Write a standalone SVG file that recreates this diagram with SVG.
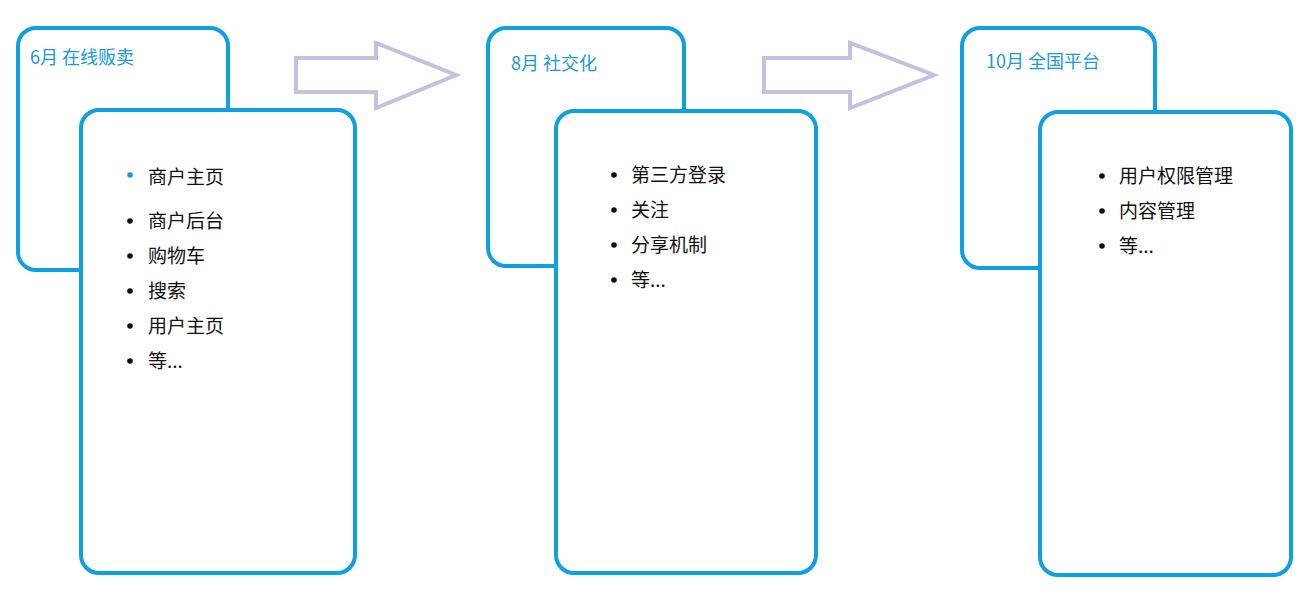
<svg xmlns="http://www.w3.org/2000/svg" width="1314" height="598" viewBox="0 0 1314 598">
<style>
.card{fill:#fff;stroke:#0ea0e0;stroke-width:4}
.arrow{fill:none;stroke:#c5bfe2;stroke-width:4;stroke-linejoin:miter}
.title{font-family:"Noto Sans CJK SC",sans-serif;font-size:18px;fill:#1a9ad6}
.item{font-family:"Noto Sans CJK SC",sans-serif;font-size:19px;fill:#111}
.dot{fill:#111}
</style>
<rect width="1314" height="598" fill="#fff"/>
<g id="connectors">
<polygon class="arrow" points="296,58 376,58 376,43 456,75 376,108 376,92 296,92"/>
<polygon class="arrow" points="764,58 850,58 850,43 934,75 850,108 850,92 764,92"/>
</g>
<g id="card1">
<rect class="card" x="18" y="28" width="210" height="242" rx="18"/>
<rect class="card" x="81" y="110" width="274" height="463" rx="18"/>
<text class="title" x="30" y="64">6月 在线贩卖</text>
<circle cx="130" cy="175" r="2.8" fill="#1a9ad6"/>
<circle class="dot" cx="130" cy="221" r="2.8"/><circle class="dot" cx="130" cy="256" r="2.8"/><circle class="dot" cx="130" cy="291" r="2.8"/><circle class="dot" cx="130" cy="326" r="2.8"/><circle class="dot" cx="130" cy="361" r="2.8"/>
<text class="item" x="148" y="184">商户主页</text>
<text class="item" x="148" y="228">商户后台</text>
<text class="item" x="148" y="263">购物车</text>
<text class="item" x="148" y="298">搜索</text>
<text class="item" x="148" y="333">用户主页</text>
<text class="item" x="148" y="368">等...</text>
</g>
<g id="card2">
<rect class="card" x="488" y="28" width="196" height="238" rx="18"/>
<rect class="card" x="556" y="111" width="260" height="462" rx="18"/>
<text class="title" x="511" y="70">8月 社交化</text>
<circle class="dot" cx="614" cy="175" r="2.8"/><circle class="dot" cx="614" cy="210" r="2.8"/><circle class="dot" cx="614" cy="245" r="2.8"/><circle class="dot" cx="614" cy="280" r="2.8"/>
<text class="item" x="631" y="182">第三方登录</text>
<text class="item" x="631" y="217">关注</text>
<text class="item" x="631" y="252">分享机制</text>
<text class="item" x="631" y="287">等...</text>
</g>
<g id="card3">
<rect class="card" x="962" y="28" width="193" height="240" rx="18"/>
<rect class="card" x="1040" y="112" width="251" height="463" rx="18"/>
<text class="title" x="986" y="68">10月 全国平台</text>
<circle class="dot" cx="1102" cy="176" r="2.8"/><circle class="dot" cx="1102" cy="211" r="2.8"/><circle class="dot" cx="1102" cy="246" r="2.8"/>
<text class="item" x="1119" y="183">用户权限管理</text>
<text class="item" x="1119" y="218">内容管理</text>
<text class="item" x="1119" y="253">等...</text>
</g>
</svg>
